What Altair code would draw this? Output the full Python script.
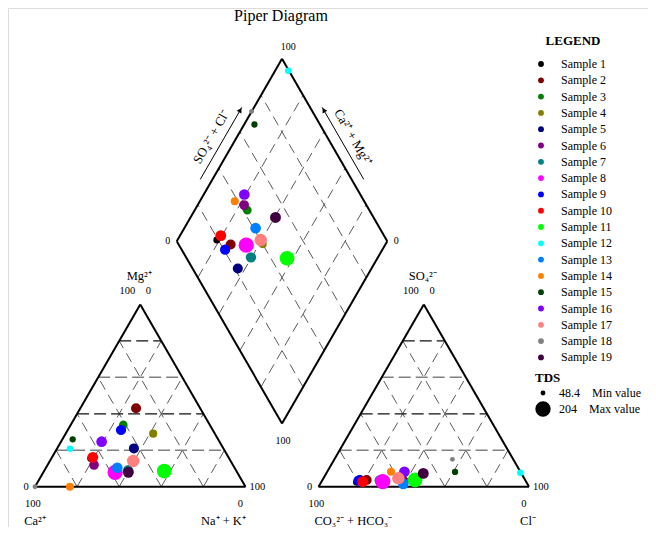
import math
import altair as alt
import pandas as pd

# ---------------- data ----------------
samples = [f"Sample {i}" for i in range(1, 20)]
colors = ["#000000", "#800000", "#008000", "#808000", "#000080", "#800080",
          "#008080", "#FF00FF", "#0000FF", "#FF0000", "#00FF00", "#00FFFF",
          "#0080FF", "#FF8000", "#004000", "#8000FF", "#FF8080", "#808080",
          "#400040"]
# cations (% meq)
ca = [65.8, 30.5, 41.1, 29.3, 42.5, 66.0, 51.3, 58.0, 43.6, 64.5,
      34.3, 73.0, 55.7, 83.4, 69.1, 56.0, 46.3, 100.0, 51.7]
mg = [15.5, 43.0, 33.9, 29.1, 21.0, 11.9, 9.0, 7.9, 31.1, 16.1,
      8.6, 20.8, 10.4, 0.0, 26.0, 24.7, 14.1, 0.0, 7.9]
nak = [18.7, 26.5, 25.0, 41.6, 36.5, 22.1, 39.7, 34.1, 25.3, 19.4,
       57.1, 6.2, 33.9, 16.6, 4.9, 19.3, 39.6, 0.0, 40.4]
# anions (% meq)
hco3 = [80.7, 75.3, 58.0, 60.0, 78.5, 58.1, 69.2, 68.1, 79.4, 77.6,
        52.3, 0.3, 59.0, 61.5, 31.1, 55.1, 59.8, 28.9, 46.6]
so4 = [2.5, 3.7, 3.0, 4.5, 3.7, 4.0, 3.5, 2.8, 3.3, 2.8,
       3.7, 7.7, 1.5, 8.2, 8.1, 8.2, 4.6, 15.0, 7.3]
cl = [16.8, 21.0, 39.0, 35.5, 17.8, 37.9, 27.3, 29.1, 17.3, 19.6,
      44.0, 92.0, 39.5, 30.3, 60.8, 36.7, 35.6, 56.1, 46.1]
tds = [66, 105, 85, 80, 105, 100, 110, 204, 108, 118,
       192, 62, 115, 78, 60, 115, 145, 48.4, 118]

grid_levels = [20, 40, 60, 80]

# ---------------- geometry ----------------
L = 100.0                      # triangle side
G = 34.7                       # gap between triangles
H = L * math.sqrt(3) / 2
X2 = L + G                     # anion triangle offset
XB = L + G / 2                 # diamond bottom vertex
YB = G / 2 * math.sqrt(3)

K = 2.105                      # px per unit
W, HGT = 640, 519
xmin = -27 / K
xmax = xmin + W / K
ymax = 478.7 / K
ymin = ymax - HGT / K
xs = alt.Scale(domain=[xmin, xmax], nice=False, zero=False)
ys = alt.Scale(domain=[ymin, ymax], nice=False, zero=False)

# points
rows = []
for i, s in enumerate(samples):
    rows.append(dict(sample=s, tds=tds[i],
                     x=(nak[i] + mg[i] / 2) * L / 100, y=mg[i] * H / 100, o=0))
for i, s in enumerate(samples):
    rows.append(dict(sample=s, tds=tds[i],
                     x=X2 + (cl[i] + so4[i] / 2) * L / 100, y=so4[i] * H / 100, o=1))
for i, s in enumerate(samples):
    A = so4[i] + cl[i]
    C = ca[i] + mg[i]
    rows.append(dict(sample=s, tds=tds[i],
                     x=XB + (A - C) / 100 * L / 2, y=YB + (A + C) / 100 * H, o=2))
pts = pd.DataFrame(rows)

# outlines
def tri(ox):
    return [(ox, 0, ox + L, 0), (ox + L, 0, ox + L / 2, H), (ox + L / 2, H, ox, 0)]

bot = (XB, YB)
rgt = (XB + L / 2, YB + H)
top = (XB, YB + 2 * H)
lft = (XB - L / 2, YB + H)
outline = tri(0) + tri(X2) + [(*bot, *rgt), (*rgt, *top), (*top, *lft), (*lft, *bot)]
cols = ["x", "y", "x2", "y2"]
outline_df = pd.DataFrame(outline, columns=cols)

hor_dark, hor_light, slant = [], [], []
for ox in (0, X2):
    for k in grid_levels:
        f = k / 100
        seg = (ox + f * L / 2, f * H, ox + L - f * L / 2, f * H)
        (hor_dark if k in (40, 80) else hor_light).append(seg)
        slant.append((ox + f * L, 0, ox + f * L + (1 - f) * L / 2, (1 - f) * H))
        slant.append((ox + (1 - f) * L, 0, ox + (1 - f) * L / 2, (1 - f) * H))
for k in grid_levels:
    f = k / 100
    p = (XB + f * L / 2, YB + f * H)
    slant.append((p[0], p[1], p[0] - L / 2, p[1] + H))
    q = (XB - f * L / 2, YB + f * H)
    slant.append((q[0], q[1], q[0] + L / 2, q[1] + H))
hd_df = pd.DataFrame(hor_dark, columns=cols)
hl_df = pd.DataFrame(hor_light, columns=cols)
sl_df = pd.DataFrame(slant, columns=cols)

# arrows along diamond upper edges
def along(p, d, nrm, t, n):
    return (p[0] + d[0] * t + nrm[0] * n, p[1] + d[1] * t + nrm[1] * n)

dl, nl = (0.5, math.sqrt(3) / 2), (-math.sqrt(3) / 2, 0.5)
dr, nr = (-0.5, math.sqrt(3) / 2), (math.sqrt(3) / 2, 0.5)
a1 = along(lft, dl, nl, 31, 5); a2 = along(lft, dl, nl, 70.5, 5)
b1 = along(rgt, dr, nr, 31, 5); b2 = along(rgt, dr, nr, 70.5, 5)
arrow_df = pd.DataFrame([(*a1, *a2), (*b1, *b2)], columns=cols)
ah1 = along(lft, dl, nl, 69, 5); ah2 = along(rgt, dr, nr, 69, 5)
head_df = pd.DataFrame([dict(x=ah1[0], y=ah1[1], ang=30), dict(x=ah2[0], y=ah2[1], ang=330)])

t1 = along(lft, dl, nl, 51, 10.5); t2 = along(rgt, dr, nr, 51, 10.5)

labels = [
    ("Piper Diagram", XB - 0.5, YB + 2 * H + 20.3, 16, 0),
    ("100", XB + 3, YB + 2 * H + 5.6, 10, 0),
    ("0", XB - L / 2 - 4.3, YB + H, 10, 0),
    ("0", XB + L / 2 + 4.3, YB + H, 10, 0),
    ("100", XB + 0.5, YB - 8.2, 10, 0),
    ("SO₄²⁻ + Cl⁻", t1[0], t1[1], 13, 300),
    ("Ca²⁺ + Mg²⁺", t2[0], t2[1], 13, 60),
]
for ox, topname, lname, rname, lx, rx in [
        (0, "Mg²⁺", "Ca²⁺", "Na⁺ + K⁺", 0, L - 10.5),
        (X2, "SO₄²⁻", "CO₃²⁻ + HCO₃⁻", "Cl⁻", 16.5, L - 0.5)]:
    labels += [
        (topname, ox + L / 2 - 0.5, H + 13.6, 12.5, 0),
        ("100", ox + L / 2 - 6.1, H + 6.4, 10.5, 0),
        ("0", ox + L / 2 + 3.9, H + 6.4, 10.5, 0),
        ("0", ox - 4.2, 0, 10.5, 0),
        ("100", ox - 1, -8.3, 10.5, 0),
        (lname, ox + lx, -16.3, 12.5, 0),
        ("100", ox + L + 5.6, 0, 10.5, 0),
        ("0", ox + L - 2.4, -8.3, 10.5, 0),
        (rname, ox + rx, -16.3, 12.5, 0),
    ]
lab_df = pd.DataFrame(labels, columns=["text", "x", "y", "size", "ang"])

# ---------------- chart ----------------
X = alt.X("x:Q", scale=xs, axis=None)
Y = alt.Y("y:Q", scale=ys, axis=None)

def seg_layer(df, color, width, dash=None):
    kw = dict(color=color, strokeWidth=width)
    if dash:
        kw["strokeDash"] = dash
    return alt.Chart(df).mark_rule(**kw).encode(x=X, y=Y, x2="x2:Q", y2="y2:Q")

grid_slant = seg_layer(sl_df, "#5a5a5a", 1, [10, 6])
grid_hd = seg_layer(hd_df, "#111111", 1.2, [12, 5])
grid_hl = seg_layer(hl_df, "#808080", 1.6, [12, 5])
outl = seg_layer(outline_df, "black", 2)
arrows = seg_layer(arrow_df, "black", 1)
heads = alt.Chart(head_df).mark_point(shape="triangle-up", filled=True, color="black",
                                      size=30, opacity=1).encode(
    x=X, y=Y, angle=alt.Angle("ang:Q", scale=None))

texts = alt.Chart(lab_df).mark_text(font="Liberation Serif", color="black",
                                    baseline="middle", align="center").encode(
    x=X, y=Y, text="text:N",
    size=alt.Size("size:Q", scale=None, legend=None),
    angle=alt.Angle("ang:Q", scale=None))

points = alt.Chart(pts).mark_circle(opacity=1).encode(
    x=X, y=Y,
    color=alt.Color("sample:N", sort=samples,
                    scale=alt.Scale(domain=samples, range=colors),
                    legend=alt.Legend(title="LEGEND", orient="none", legendX=527, legendY=27,
                                      titleFont="Liberation Serif", titleFontSize=13,
                                      titleFontWeight="bold", titleAnchor="middle",
                                      titlePadding=10, titleColor="black",
                                      labelFont="Liberation Serif", labelFontSize=12,
                                      labelColor="black", labelOffset=14,
                                      symbolType="circle", symbolSize=34, rowPadding=4.3)),
    size=alt.Size("tds:Q", scale=alt.Scale(domain=[48.4, 204], range=[24, 235]),
                  legend=alt.Legend(title="TDS", orient="none", legendX=527, legendY=364,
                                    values=[48.4, 204],
                                    labelExpr="datum.value < 100 ? '48.4\u00a0\u00a0\u00a0\u00a0Min value' : '204\u00a0\u00a0\u00a0\u00a0Max value'",
                                    titleFont="Liberation Serif", titleFontSize=13,
                                    titleFontWeight="bold", titleColor="black",
                                    titlePadding=2,
                                    labelFont="Liberation Serif", labelFontSize=12,
                                    labelColor="black", labelOffset=8,
                                    symbolFillColor="black", symbolStrokeColor="black",
                                    symbolStrokeWidth=0, rowPadding=2)),
    order=alt.Order("o:Q"),
)

chart = alt.layer(grid_slant, grid_hl, grid_hd, outl, arrows, heads, texts, points).properties(
    width=W, height=HGT,
    autosize=alt.AutoSizeParams(type="none"),
    padding=0,
).resolve_legend(size="independent").configure_view(stroke=None).configure(background="white")

chart.save("out.html", embed_options={"renderer": "svg", "actions": False})
